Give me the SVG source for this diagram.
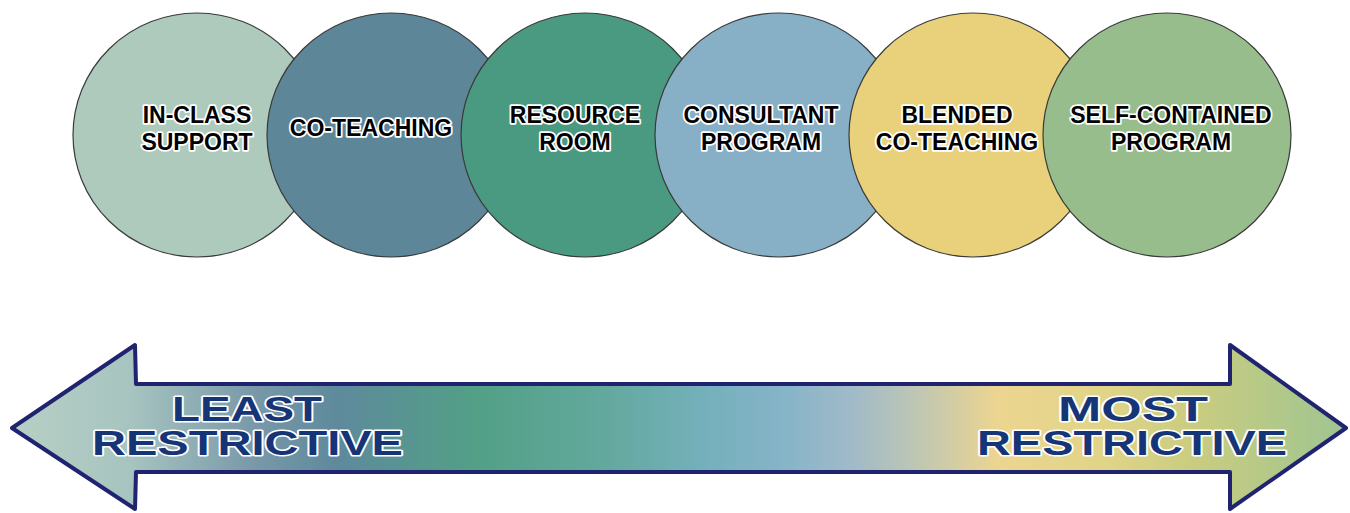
<svg xmlns="http://www.w3.org/2000/svg" width="1350" height="513" viewBox="0 0 1350 513">
  <defs>
    <linearGradient id="arrowGrad" gradientUnits="userSpaceOnUse" x1="10" y1="0" x2="1345" y2="0">
      <stop offset="0" stop-color="#b8d0c5"/>
      <stop offset="0.09" stop-color="#a7c4c0"/>
      <stop offset="0.185" stop-color="#7898a8"/>
      <stop offset="0.245" stop-color="#5e8a9c"/>
      <stop offset="0.35" stop-color="#52a086"/>
      <stop offset="0.44" stop-color="#62a89c"/>
      <stop offset="0.52" stop-color="#74b0bb"/>
      <stop offset="0.58" stop-color="#86b4c8"/>
      <stop offset="0.63" stop-color="#a0bac8"/>
      <stop offset="0.67" stop-color="#b8c4b8"/>
      <stop offset="0.74" stop-color="#ecd590"/>
      <stop offset="0.82" stop-color="#e0d488"/>
      <stop offset="0.89" stop-color="#c8cc80"/>
      <stop offset="1" stop-color="#9fc591"/>
    </linearGradient>
  </defs>
  <style>
    .circle { stroke: #3a3a3a; stroke-width: 1.2; }
    .label { font-family: "Liberation Sans", Arial, sans-serif; font-weight: bold; font-size: 23px; fill: #000; stroke: #fff; stroke-width: 3.5; stroke-linejoin: round; paint-order: stroke fill; text-anchor: middle; }
    .big { font-family: "Liberation Sans", Arial, sans-serif; font-weight: 900; font-size: 35px; fill: #163577; stroke: #fff; stroke-width: 3; stroke-linejoin: round; paint-order: stroke fill; text-anchor: start; }
  </style>
  <rect width="1350" height="513" fill="#fff"/>

  <g id="node-in-class-support">
    <ellipse class="circle" cx="197" cy="135" rx="124" ry="122" fill="#adcabd"/>
    <text class="label" x="197" y="123">IN-CLASS</text>
    <text class="label" x="197" y="150">SUPPORT</text>
  </g>
  <g id="node-co-teaching">
    <ellipse class="circle" cx="391" cy="135" rx="124" ry="122" fill="#5e8699"/>
    <text class="label" x="371" y="136">CO-TEACHING</text>
  </g>
  <g id="node-resource-room">
    <ellipse class="circle" cx="585" cy="135" rx="124" ry="122" fill="#4a9a81"/>
    <text class="label" x="575" y="123">RESOURCE</text>
    <text class="label" x="575" y="150">ROOM</text>
  </g>
  <g id="node-consultant-program">
    <ellipse class="circle" cx="779" cy="135" rx="124" ry="122" fill="#87afc5"/>
    <text class="label" x="761" y="123">CONSULTANT</text>
    <text class="label" x="761" y="150">PROGRAM</text>
  </g>
  <g id="node-blended-co-teaching">
    <ellipse class="circle" cx="973" cy="135" rx="124" ry="122" fill="#e9d17c"/>
    <text class="label" x="957" y="123">BLENDED</text>
    <text class="label" x="957" y="150">CO-TEACHING</text>
  </g>
  <g id="node-self-contained-program">
    <ellipse class="circle" cx="1167" cy="135" rx="124" ry="122" fill="#97bd8c"/>
    <text class="label" x="1171" y="123">SELF-CONTAINED</text>
    <text class="label" x="1171" y="150">PROGRAM</text>
  </g>

  <g id="connectors">
    <path d="M 12 428 L 135 345 L 136 384 L 1230 384 L 1230 345 L 1346 428 L 1230 509 L 1230 472 L 136 472 L 135 509 Z"
          fill="url(#arrowGrad)" stroke="#1f2370" stroke-width="4" stroke-linejoin="round"/>
    <text class="big" x="172" y="421" textLength="150" lengthAdjust="spacingAndGlyphs">LEAST</text>
    <text class="big" x="92" y="455" textLength="311" lengthAdjust="spacingAndGlyphs">RESTRICTIVE</text>
    <text class="big" x="1058" y="421" textLength="150" lengthAdjust="spacingAndGlyphs">MOST</text>
    <text class="big" x="977" y="455" textLength="310" lengthAdjust="spacingAndGlyphs">RESTRICTIVE</text>
  </g>
</svg>
